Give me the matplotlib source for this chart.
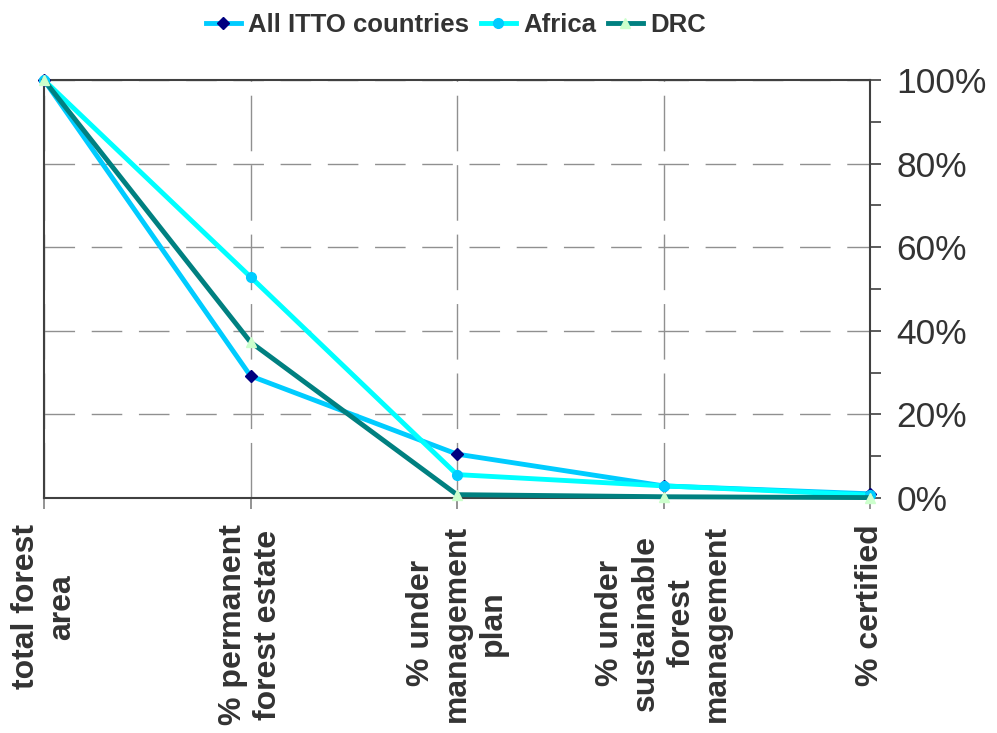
import matplotlib
matplotlib.use("Agg")
import matplotlib.pyplot as plt
from matplotlib.ticker import MultipleLocator, FuncFormatter

categories = ["total forest\narea", "% permanent\nforest estate", "% under\nmanagement\nplan",
              "% under\nsustainable\nforest\nmanagement", "% certified"]
all_itto = [100, 29.2, 10.5, 2.9, 1.0]
africa = [100, 52.9, 5.6, 2.9, 0.7]
drc = [100, 37.3, 0.8, 0.3, 0.1]

plt.rcParams['font.family'] = ['Liberation Sans', 'DejaVu Sans']
txt = '#333333'
spine_c = '#404040'

fig = plt.figure(figsize=(9.97, 7.33), dpi=100)
ax = fig.add_axes([44/997, 1-498/733, (870-44)/997, (498-80)/733])
x = list(range(len(categories)))

ax.plot(x, all_itto, color='#00CCFF', lw=3.5, marker='D', ms=6.5, mfc='#000080', mec='#000080',
        label='All ITTO countries', clip_on=False, zorder=3)
ax.plot(x, africa, color='#00FFFF', lw=3.5, marker='o', ms=7, mfc='#00CCFF', mec='#00CCFF',
        label='Africa', clip_on=False, zorder=4)
ax.plot(x, drc, color='#008080', lw=3.5, marker='^', ms=7, mfc='#CCFFCC', mec='#CCFFCC',
        label='DRC', clip_on=False, zorder=5)

ax.set_xlim(0, 4)
ax.set_ylim(0, 100)
ax.yaxis.tick_right()
ax.yaxis.set_major_locator(MultipleLocator(20))
ax.yaxis.set_minor_locator(MultipleLocator(10))
ax.yaxis.set_major_formatter(FuncFormatter(lambda v, p: f"{int(v)}%"))
ax.tick_params(axis='y', which='both', direction='out', length=8, width=1.2, color=spine_c,
               labelsize=25.5, labelcolor=txt, pad=11, left=False, right=True)
ax.set_xticks(x)
ax.set_xticklabels(categories, rotation=90, fontsize=23, fontweight='bold', color=txt,
                   ha='center', va='top', multialignment='center', linespacing=1.25)
ax.tick_params(axis='x', direction='out', length=8, width=1.2, color='#808080', pad=11)

for s in ax.spines.values():
    s.set_color(spine_c)
    s.set_linewidth(1.5)

ax.grid(True, axis='y', which='major', color='#909090', lw=1, linestyle=(0, (22, 12)))
ax.grid(True, axis='x', color='#909090', lw=1, linestyle=(0, (40, 10)))
ax.set_axisbelow(True)

leg = ax.legend(loc='upper center', bbox_to_anchor=(456/997, 1.0), bbox_transform=fig.transFigure,
                ncol=3, frameon=False, prop={'weight': 'bold', 'size': 18.5},
                handlelength=1.35, columnspacing=0.45, handletextpad=0.3, borderaxespad=0.1)
for t in leg.get_texts():
    t.set_color(txt)

fig.savefig('out.png', dpi=100)
